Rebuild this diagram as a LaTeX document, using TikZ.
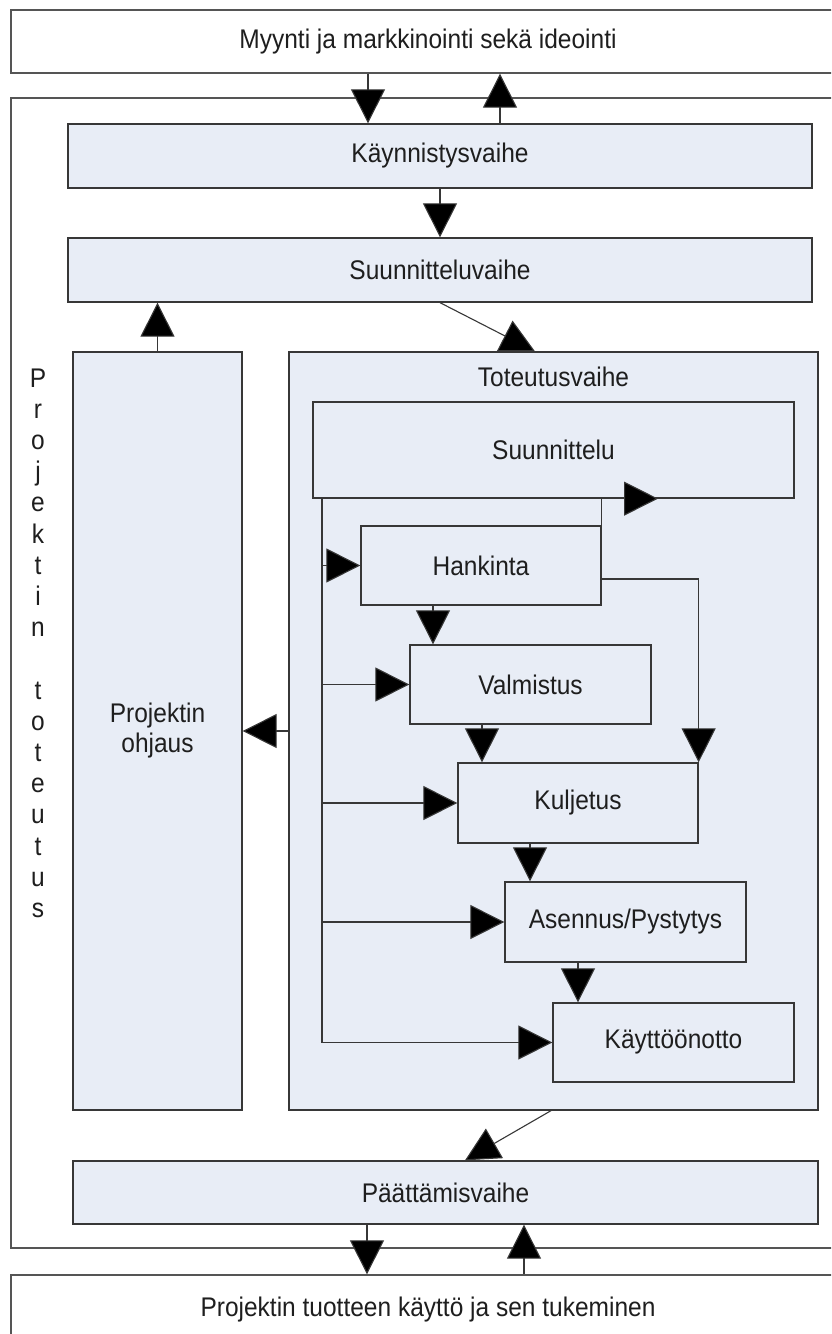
\documentclass[tikz,border=0pt]{standalone}
\usepackage{fontspec}
\setmainfont{Liberation Sans}
\usetikzlibrary{arrows.meta,calc}
\definecolor{boxfill}{RGB}{232,237,246}
\definecolor{edge}{RGB}{55,55,55}
\definecolor{frameedge}{RGB}{85,85,85}
\definecolor{ink}{RGB}{30,30,30}
\newcommand\tx[1]{\scalebox{1}[1.1]{#1}}
\begin{document}
\begin{tikzpicture}[x=1pt,y=-1pt,
  every node/.style={font=\fontsize{24.5}{30}\selectfont, text=ink},
  phase/.style={draw=edge, line width=1.3pt, fill=boxfill, inner sep=0pt, rectangle},
  outer/.style={draw=frameedge, line width=1.3pt, fill=white, inner sep=0pt, rectangle},
  arr/.style={draw=edge, line width=1.1pt, -{Triangle[length=34pt,width=34pt,fill=black]}},
  link/.style={draw=edge, line width=1.1pt}
]
\useasboundingbox (0,0) rectangle (831,1334);
\fill[white] (0,0) rectangle (831,1334);
\clip (0,0) rectangle (831,1334);

% surrounding context boxes and project frame
\node[outer, minimum width=834pt, minimum height=63pt] (top) at (428,41.5) {\tx{Myynti ja markkinointi sekä ideointi}};
\node[outer, minimum width=834pt, minimum height=1150pt] (proj) at (428,673) {};
\node[outer, minimum width=834pt, minimum height=70pt] (bottom) at (428,1310) {\tx{Projektin tuotteen käyttö ja sen tukeminen}};

% project phases
\node[phase, minimum width=744pt, minimum height=64pt] (kaynn) at (440,156) {\tx{Käynnistysvaihe}};
\node[phase, minimum width=744pt, minimum height=64pt] (suunv) at (440,270) {\tx{Suunnitteluvaihe}};
\node[phase, minimum width=169pt, minimum height=758pt, align=center] (ohj) at (157.5,731) {\tx{Projektin}\\\tx{ohjaus}};
\node[phase, minimum width=529pt, minimum height=758pt] (tot) at (553.5,731) {};
\node[anchor=center] (tottitle) at (553.5,377) {\tx{Toteutusvaihe}};
\node[phase, minimum width=745pt, minimum height=63pt] (paat) at (445.5,1192.5) {\tx{Päättämisvaihe}};

% execution sub-phases
\node[phase, minimum width=481pt, minimum height=96pt] (suun) at (553.5,450) {\tx{Suunnittelu}};
\node[phase, minimum width=240pt, minimum height=79pt] (hank) at (481,565.5) {\tx{Hankinta}};
\node[phase, minimum width=241pt, minimum height=79pt] (valm) at (530.5,684.5) {\tx{Valmistus}};
\node[phase, minimum width=240pt, minimum height=80pt] (kulj) at (578,803) {\tx{Kuljetus}};
\node[phase, minimum width=241pt, minimum height=80pt] (asen) at (625.5,922) {\tx{Asennus/Pystytys}};
\node[phase, minimum width=241pt, minimum height=79pt] (kayt) at (673.5,1042.5) {\tx{Käyttöönotto}};

% vertical side label
\foreach \ch [count=\i from 0] in {P,r,o,j,e,k,t,i,n,{},t,o,t,e,u,t,u,s}
  \node[anchor=base, inner sep=0pt] (v\i) at (38,387+31.2*\i) {\tx{\ch}};

% column / row helpers
\coordinate (c368) at (368,0);
\coordinate (c500) at (500,0);
\coordinate (c367) at (367,0);
\coordinate (c524) at (524,0);
\coordinate (c535) at (535,0);
\coordinate (c551) at (551,0);
\coordinate (c465) at (465,0);
\coordinate (bus) at (322,0);
\coordinate (c433) at (433,0);
\coordinate (c482) at (482,0);
\coordinate (c530) at (530,0);
\coordinate (c578) at (578,0);
\coordinate (c658) at (658,0);
\coordinate (r579) at (0,579);

% flow between the outer context and the project
\draw[arr] (top.south -| c368) -- (kaynn.north -| c368);
\draw[arr] (kaynn.north -| c500) -- (top.south -| c500);
\draw[arr] (kaynn.south) -- (suunv.north);
\draw[arr] (ohj.north) -- (ohj.north |- suunv.south);
\draw[arr] (suunv.south) -- (tot.north -| c535);
\draw[arr] (tot.west) -- (ohj.east);
\draw[arr] (tot.south -| c551) -- (paat.north -| c465);
\draw[arr] (paat.south -| c367) -- (bottom.north -| c367);
\draw[arr] (bottom.north -| c524) -- (paat.south -| c524);

% control bus from Suunnittelu to every sub-phase
\draw[link] (suun.south -| bus) -- (bus |- kayt.west);
\draw[arr] (bus |- hank.west) -- (hank.west);
\draw[arr] (bus |- valm.west) -- (valm.west);
\draw[arr] (bus |- kulj.west) -- (kulj.west);
\draw[arr] (bus |- asen.west) -- (asen.west);
\draw[arr] (bus |- kayt.west) -- (kayt.west);

% sequential chain
\draw[arr] (hank.south -| c433) -- (valm.north -| c433);
\draw[arr] (valm.south -| c482) -- (kulj.north -| c482);
\draw[arr] (kulj.south -| c530) -- (asen.north -| c530);
\draw[arr] (asen.south -| c578) -- (kayt.north -| c578);

% Hankinta side links
\draw[arr] (hank.east |- r579) -| (kulj.north east);
\draw[arr] ($(hank.north east)+(0,27)$) -- (hank.north east |- suun.south) -- (suun.south -| c658);
\end{tikzpicture}
\end{document}
